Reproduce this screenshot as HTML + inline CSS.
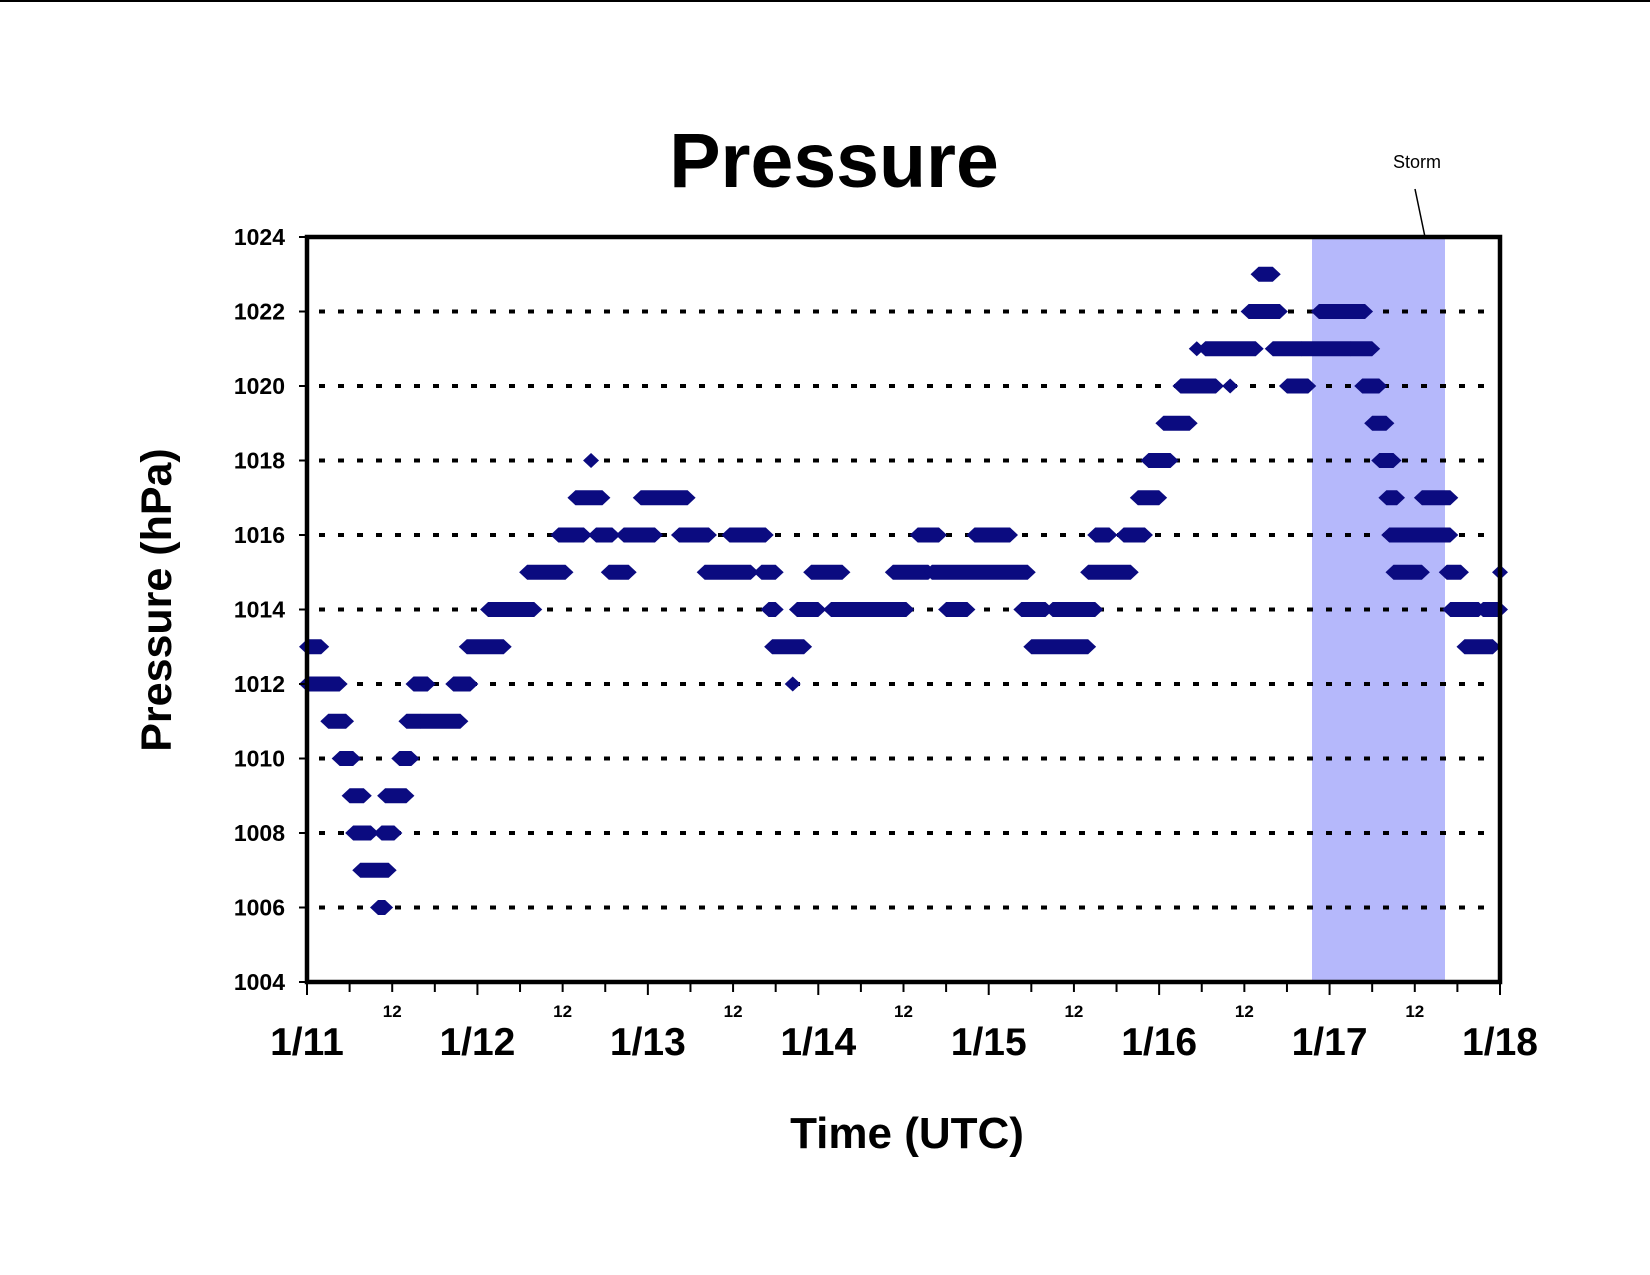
<!DOCTYPE html>
<html><head><meta charset="utf-8"><style>
html,body{margin:0;padding:0;background:#fff;}
svg{display:block;font-family:"Liberation Sans",Arial,sans-serif;}
</style></head><body>
<svg id="chart" width="1650" height="1275" viewBox="0 0 1650 1275" xmlns="http://www.w3.org/2000/svg">
<line x1="0" y1="1" x2="1650" y2="1" stroke="#000" stroke-width="2"/>
<text x="834" y="187" font-size="77" font-weight="bold" text-anchor="middle">Pressure</text>
<rect x="1312" y="237" width="133" height="745" fill="#b5b8fb"/>
<g id="grid"></g>
<g id="marks"></g>
<rect x="307" y="237" width="1193" height="745" fill="none" stroke="#000" stroke-width="4.5"/>
<g id="yaxis"></g>
<g id="xaxis"></g>
<text transform="translate(171,600) rotate(-90)" font-size="43" font-weight="bold" text-anchor="middle">Pressure (hPa)</text>
<text x="907" y="1148" font-size="44" font-weight="bold" text-anchor="middle">Time (UTC)</text>
<text x="1417" y="168" font-size="18" text-anchor="middle">Storm</text>
<line x1="1415" y1="189" x2="1425" y2="237" stroke="#000" stroke-width="1.5"/>
</svg>
<script>
// Data: observed pressure runs (hours since 1/11 00 UTC, hPa)
const segStart = [0,0,3,4.6,6,6.5,7.5,10,10.5,11,13,14,15,16,20.6,22.5,25.5,31,35.4,37.8,40,40.7,42.5,44.6,47,52.4,52.4,56,59.5,64,65,65.5,68.4,69,71,73.8,82.5,86,88,90,94,100.6,102,105,110,111,115,117,118.5,120.6,123,125.3,126.5,130,132.6,134,136,138,140,142.5,147,148.6,150,151,152,152.4,153,157,160.5,161,163,165.6,168];
const segEnd   = [2,4.6,5.5,6.5,8,9,11.5,11,12.3,14,14.7,16,17,21.6,23,27.7,32,36.4,39,41.6,40,43,45.3,49,53.6,52.4,56.6,62.5,64.6,66,66,70,68.4,72,75.4,84.4,87.5,89,101.5,93,99,104,110,111,116,113,118,120,121.6,124.3,128,125.3,133.6,130,137,136,140,141,147,149,150,151,152,153,153.5,161,157,161,162.5,165,167,168,168];
const segValue = [1013,1012,1011,1010,1009,1008,1007,1006,1008,1009,1010,1011,1012,1011,1012,1013,1014,1015,1016,1017,1018,1016,1015,1016,1017,1016,1016,1015,1016,1015,1014,1013,1012,1014,1015,1014,1015,1016,1015,1014,1016,1014,1013,1014,1015,1016,1016,1017,1018,1019,1020,1021,1021,1020,1022,1023,1021,1020,1021,1022,1021,1020,1019,1018,1017,1016,1015,1017,1015,1014,1013,1014,1015];
const yTicks = [1004,1006,1008,1010,1012,1014,1016,1018,1020,1022,1024];
const dayLabels = ["1/11","1/12","1/13","1/14","1/15","1/16","1/17","1/18"];
const hourLabel = "12";

const X0=307,X1=1500,Y0=982,Y1=237,HMAX=168,VMIN=1004,VMAX=1024;
const xs=h=>X0+(X1-X0)*h/HMAX;
const ys=v=>Y0-(Y0-Y1)*(v-VMIN)/(VMAX-VMIN);
const NS="http://www.w3.org/2000/svg";
function mk(tag,attrs,parent){const e=document.createElementNS(NS,tag);for(const k in attrs)e.setAttribute(k,attrs[k]);parent.appendChild(e);return e;}

const grid=document.getElementById('grid');
const yaxis=document.getElementById('yaxis');
yTicks.forEach(v=>{
  const y=ys(v);
  if(v>VMIN&&v<VMAX){
    const g=mk('line',{x1:X0+12,y1:y,x2:X1-4,y2:y,stroke:'#000','stroke-width':4,'stroke-dasharray':'6 13'},grid);
    
    
  }
  const t=mk('line',{x1:X0-8,y1:y,x2:X0,y2:y,stroke:'#000','stroke-width':2},yaxis);
  
  
  const l=mk('text',{x:285,y:y+8,'font-size':23,'font-weight':'bold','text-anchor':'end'},yaxis);
  l.textContent=v;
  
  
});

const xaxis=document.getElementById('xaxis');
for(let h=0;h<=HMAX;h+=6){
  const x=xs(h);
  const t=mk('line',{x1:x,y1:Y0,x2:x,y2:Y0+(h%24===0?13:10),stroke:'#000','stroke-width':2},xaxis);
  
  
  if(h%24===12){
    const l=mk('text',{x:x,y:1017,'font-size':17,'font-weight':'bold','text-anchor':'middle'},xaxis);
    l.textContent=hourLabel;
    
    
  }
}
dayLabels.forEach((d,i)=>{
  const l=mk('text',{x:xs(i*24),y:1055,'font-size':39,'font-weight':'bold','text-anchor':'middle'},xaxis);
  l.textContent=d;
  
  
});

const marks=document.getElementById('marks');
segValue.forEach((v,i)=>{
  const a=xs(segStart[i]),b=xs(segEnd[i]),y=ys(v),hw=8,hh=7.5;
  const p=mk('polygon',{points:`${a-hw},${y} ${a},${y-hh} ${b},${y-hh} ${b+hw},${y} ${b},${y+hh} ${a},${y+hh}`,fill:'#0b0b80'},marks);
  
  
});
</script>
</body></html>
